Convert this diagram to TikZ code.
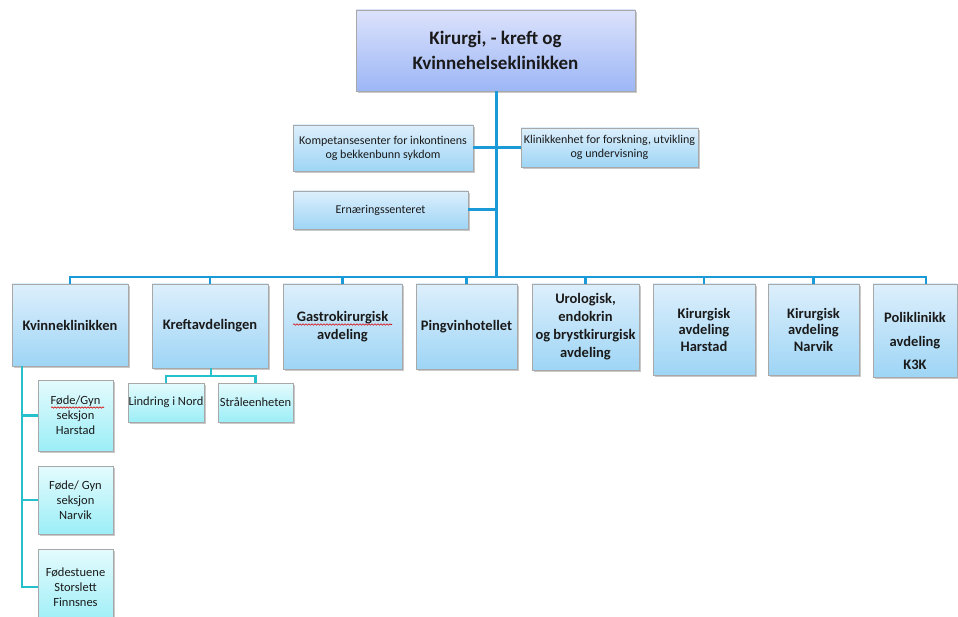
\documentclass[tikz,border=0pt]{standalone}
\usepackage{fontspec}
\setmainfont{Carlito}
\usetikzlibrary{shadows,calc,decorations.pathmorphing}
\definecolor{txt}{HTML}{1A1A1A}
\definecolor{trunkc}{HTML}{1A9AD6}
\definecolor{cyanl}{HTML}{26C0CC}
\definecolor{topA}{HTML}{DCE2FB}
\definecolor{topB}{HTML}{9CB6F6}
\definecolor{midA}{HTML}{DDEFFC}
\definecolor{midB}{HTML}{9ED5F5}
\definecolor{cyA}{HTML}{E4FBFD}
\definecolor{cyB}{HTML}{9CEEF7}
\definecolor{bord}{HTML}{A8A8A8}
\tikzset{
  basebox/.style={draw=bord, line width=0.8pt, inner sep=0pt, align=center, text=txt,
    drop shadow={shadow xshift=1.6pt, shadow yshift=-1.6pt, opacity=0.35, fill=black!60}},
  titlebox/.style={basebox, top color=topA, bottom color=topB,
    font=\fontsize{19}{25}\selectfont\bfseries},
  midbox/.style={basebox, top color=midA, bottom color=midB,
    font=\fontsize{14.5}{18}\selectfont\bfseries},
  smallbox/.style={basebox, top color=midA, bottom color=midB,
    font=\fontsize{12}{14}\selectfont},
  cybox/.style={basebox, top color=cyA, bottom color=cyB,
    font=\fontsize{12.5}{15}\selectfont},
  trunk/.style={draw=trunkc, line width=3pt},
  bus/.style={draw=trunkc, line width=2.6pt, line join=miter},
  cyline/.style={draw=cyanl, line width=2.4pt, line join=miter},
  spell/.style={draw=red!85!black, line width=0.6pt, decorate,
    decoration={snake, segment length=3pt, amplitude=0.7pt}},
}
\begin{document}
\begin{tikzpicture}[x=1pt,y=-1pt]
\useasboundingbox (0,0) rectangle (958,617);
\fill[white] (0,0) rectangle (958,617);
\begin{scope}
\clip (0,0) rectangle (958,617);
\coordinate (busc) at (496,277);
\coordinate (kb) at (211,376);

\node[titlebox, minimum width=279pt, minimum height=81pt] (top) at (495.5,50.5)
  {Kirurgi, - kreft og\\Kvinnehelseklinikken};

\draw[trunk] (top.south -| busc) -- (busc);

\node[smallbox, minimum width=180pt, minimum height=46pt] (komp) at (383,148)
  {Kompetansesenter for inkontinens\\og bekkenbunn sykdom};
\node[smallbox, minimum width=177pt, minimum height=39pt] (klin) at (609.5,147.5)
  {Klinikkenhet for forskning, utvikling\\og undervisning};
\node[smallbox, minimum width=175pt, minimum height=38pt] (ern) at (380.5,210)
  {Ernæringssenteret};

\draw[trunk] (komp.east) -- (komp.east -| busc);
\draw[trunk] (klin.west) -- (klin.west -| busc);
\draw[trunk] (ern.east) -- (ern.east -| busc);

\node[midbox, minimum width=116pt, minimum height=82pt] (kvinne) at (70,325) {Kvinneklinikken};
\node[midbox, minimum width=116pt, minimum height=84pt] (kreft) at (210,326) {Kreftavdelingen};
\node[midbox, minimum width=119pt, minimum height=85pt] (gastro) at (342.5,326.5) {Gastrokirurgisk\\avdeling};
\node[midbox, minimum width=101pt, minimum height=85pt] (ping) at (466.5,326.5) {Pingvinhotellet};
\node[midbox, minimum width=107pt, minimum height=86pt] (uro) at (585.5,327)
  {Urologisk,\\endokrin\\og brystkirurgisk\\avdeling};
\node[midbox, minimum width=102pt, minimum height=91pt, font=\fontsize{14.5}{16.5}\selectfont\bfseries] (khar) at (704,329.5) {Kirurgisk\\avdeling\\Harstad};
\node[midbox, minimum width=91pt, minimum height=91pt, font=\fontsize{14.5}{16.5}\selectfont\bfseries] (knar) at (813.5,329.5) {Kirurgisk\\avdeling\\Narvik};
\node[midbox, minimum width=84pt, minimum height=93pt] (poli) at (915,330.5) {};
\node[font=\fontsize{14.5}{23.5}\selectfont\bfseries, text=txt, align=center] (politxt) at (915,341)
  {Poliklinikk\\avdeling\\K3K};

\draw[bus] (kvinne.north) -- (kvinne.north |- busc) -- ([xshift=11pt]poli.north |- busc) -- ([xshift=11pt]poli.north);
\foreach \n in {kreft,gastro,ping,uro,khar,knar}{
  \draw[bus] (\n.north) -- (\n.north |- busc);
}

\node[cybox, minimum width=76pt, minimum height=39pt] (lind) at (166,402.5) {Lindring i Nord};
\node[cybox, minimum width=75pt, minimum height=39pt] (stra) at (255.5,402.5) {Stråleenheten};
\draw[cyline] (kreft.south -| kb) -- (kb);
\draw[cyline] (lind.north) -- (lind.north |- kb) -- (stra.north |- kb) -- (stra.north);

\node[cybox, minimum width=75pt, minimum height=71pt] (fh) at (75.5,415.5) {Føde/Gyn\\seksjon\\Harstad};
\node[cybox, minimum width=75pt, minimum height=68pt] (fn) at (75.5,500) {Føde/ Gyn\\seksjon\\Narvik};
\node[cybox, minimum width=75pt, minimum height=76pt] (fs) at (75.5,587) {Fødestuene\\Storslett\\Finnsnes};
\draw[cyline] ([xshift=-48pt]kvinne.south) -- ([xshift=-48pt]kvinne.south |- fs.west) -- (fs.west);
\draw[cyline] ([xshift=-16pt]fh.west) -- (fh.west);
\draw[cyline] ([xshift=-16pt]fn.west) -- (fn.west);

\draw[spell] (293,324.5) -- (392,324.5);
\draw[spell] (51,407.5) -- (104,407.5);
\end{scope}
\end{tikzpicture}
\end{document}
